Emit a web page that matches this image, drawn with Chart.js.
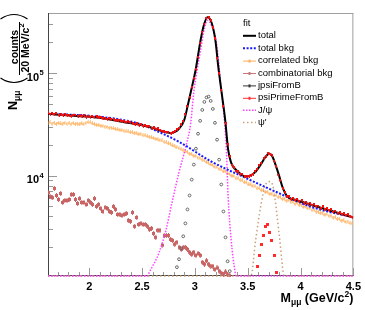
<!DOCTYPE html>
<html>
<head>
<meta charset="utf-8">
<script src="https://cdn.jsdelivr.net/npm/chart.js@4.4.1/dist/chart.umd.min.js"></script>
<style>
  html, body { margin: 0; padding: 0; background: #fff; }
  #wrap { position: relative; width: 365px; height: 310px; }
</style>
</head>
<body>
<div id="wrap"><canvas id="massChart"></canvas></div>
<script>
// 20 MeV bins, first bin centre 1.61 GeV
var binFirst = 1.61;
var binWidth = 0.02;
var xMin = 1.61, xMax = 4.5;
var yMin = 1050, yMax = 385000;
var xLabelTicks = [2, 2.5, 3, 3.5, 4, 4.5];
var yLabelDecades = [4, 5];

// data points (red), one per bin
var dataCounts = [
  40800, 39500, 40600, 39200, 40100, 38900, 39700, 38600, 39800, 38400, 38900, 37600, 38700, 38900, 37900, 38500, 37400, 38600, 37200, 37900,
  37100, 37800, 36700, 37300, 36500, 36900, 35700, 36400, 35300, 35900, 34900, 35200, 34600, 34100, 34700, 33600, 33900, 33100, 33400, 32600,
  32200, 31700, 31900, 31000, 31400, 30400, 30600, 29800, 29900, 29100, 29200, 28300, 28500, 27600, 27100, 26900, 26300, 26500, 26000, 26400,
  26800, 27900, 28900, 31200, 33800, 39500, 47000, 58000, 72000, 88000, 108000, 142000, 195000, 250000, 300000, 340000, 345000, 325000, 275000, 215000,
  140000, 98000, 68000, 47000, 32000, 20000, 15300, 12600, 11900, 11000, 10900, 10200, 10300, 9700, 9900, 9800, 10100, 10200, 11000, 11400,
  12500, 13100, 14700, 15300, 16500, 16100, 15800, 13800, 12200, 10100, 8900, 7500, 6900, 6200, 6200, 5800, 6000, 5700, 5850, 5550,
  5700, 5400, 5500, 5250, 5400, 5100, 5250, 4950, 5050, 4800, 4950, 4650, 4750, 4550, 4650, 4400, 4500, 4300, 4380, 4150,
  4250, 4050, 4150, 3950, 3900
];

// correlated bkg (orange), one per bin
var correlatedBkg = [
  32500, 33100, 32200, 32800, 31900, 32600, 32300, 31800, 32700, 32100, 32400, 31700, 32500, 31900, 32200, 31600, 32300, 31800, 32600, 33200,
  33000, 32300, 31900, 31400, 31100, 30800, 30500, 30000, 29800, 29300, 29400, 28800, 28600, 28200, 28000, 27700, 27500, 27000, 27000, 26400,
  26500, 25900, 25900, 25300, 25400, 24700, 24700, 24200, 23900, 23600, 23300, 22900, 22700, 22100, 22000, 21400, 21100, 20600, 20500, 19700,
  19500, 18800, 18500, 18100, 17700, 17200, 17100, 16400, 16300, 15700, 15500, 15000, 14800, 14300, 14100, 13600, 13400, 12900, 12700, 12200,
  12100, 11600, 11500, 11000, 11000, 10500, 10400, 10000, 9900, 9400, 9400, 9000, 9000, 8600, 8600, 8200, 8200, 7900, 7900, 7500,
  7500, 7200, 7200, 6900, 6950, 6650, 6650, 6400, 6400, 6150, 6200, 5900, 5950, 5700, 5750, 5500, 5550, 5300, 5400, 5150,
  5200, 4950, 5000, 4800, 4800, 4600, 4650, 4450, 4450, 4300, 4350, 4150, 4200, 4050, 4050, 3900, 3920, 3780, 3800, 3650,
  3680, 3540, 3560, 3440, 3420
];

// combinatorial bkg (brown-red), from the first bin on
var combinatorialBkg = [
  6840, 6250, 6100, 7500, 6400, 5850, 6700, 5470, 5720, 5720, 5850, 6540, 6540, 5850, 5350, 5980, 5470, 5470, 5230, 5720,
  5470, 5230, 5980, 5000, 5230, 4780, 4470, 4890, 4780, 4470, 4370, 5000, 4680, 4180, 4180, 4090, 4180, 4280, 3660, 3580,
  4370, 3200, 3910, 3340, 3420, 3340, 3340, 3200, 2990, 3060, 2730, 2500, 2930, 2930, 2100, 2610, 2610, 2610, 2390, 2330,
  2140, 2240, 2000, 1910, 2000, 2000, 1910, 1790, 1710, 1790, 1670, 1740, 1670, 1430, 1370, 1480, 1370, 1310, 1310, 1220,
  1260, 1170, 1120, 1090, 1150, 1080, 1060
];

// jpsiFromB (open circles), first bin 2.83
var jpsiFromBStart = 2.83;
var jpsiFromB = [
  1280, 1530, 1950, 2560, 3420, 4680, 6400, 9140, 12800, 18300, 25600, 34200, 43700, 52300, 57800, 58900, 53500, 44700, 32700, 22400,
  14300, 8190, 4470, 2500, 1460, 1170
];

// psiPrimeFromB (red), first bin 3.59
var psiPrimeFromBStart = 3.59;
var psiPrimeFromB = [1310, 1670, 2140, 2610, 3200, 3340, 2800, 2340, 1670, 1140];

// fit curves
var totalFitMass = [1.61, 1.85, 2.01, 2.17, 2.32, 2.48, 2.63, 2.71, 2.77, 2.85, 2.90, 2.94, 2.97, 3.007, 3.035, 3.054, 3.082, 3.119, 3.157, 3.194,
  3.222, 3.25, 3.287, 3.315, 3.343, 3.409, 3.483, 3.567, 3.623, 3.67, 3.707, 3.735, 3.763, 3.80, 3.828, 3.875, 3.94, 4.034, 4.183, 4.341, 4.5];
var totalFit = [40000, 38300, 37400, 35700, 33400, 31300, 28600, 26700, 26100, 28600, 35000, 52300, 71500, 107000, 160000, 209000, 286000, 350000, 313000, 209000,
  114000, 68400, 35000, 17900, 13400, 10900, 9780, 10700, 12800, 15300, 16400, 15300, 12800, 9780, 7810, 6250, 5850, 5470, 4890, 4370, 3910];

var totalBkgMass = [1.61, 2.009, 2.317, 2.476, 2.634, 2.849, 3.157, 3.474, 3.782, 4.09, 4.5];
var totalBkg = [40000, 38300, 34900, 32000, 27400, 21400, 13700, 9570, 6840, 5000, 3910];

var jpsiLineMass = [1.61, 2.55, 2.569, 2.662, 2.728, 2.784, 2.849, 2.914, 2.961, 2.989, 3.017, 3.054, 3.091, 3.119, 3.157, 3.203, 3.25, 3.297, 3.315, 3.343, 3.381, 3.39, 4.5];
var jpsiLine = [1050, 1050, 1143, 1787, 2990, 5470, 10700, 19100, 32700, 64000, 100000, 167000, 274000, 327000, 292000, 200000, 68400, 19100, 6250, 2390, 1143, 1050, 1050];

var psiPrimeLineMass = [1.61, 3.53, 3.576, 3.623, 3.67, 3.707, 3.735, 3.763, 3.80, 3.847, 4.5];
var psiPrimeLine = [1050, 1050, 2390, 5000, 8190, 8750, 8190, 5470, 2560, 1050, 1050];

var FONT = '"Liberation Sans", Arial, Helvetica, sans-serif';

function binPoints(start, values) {
  return values.map(function (v, i) {
    return { x: start + i * binWidth, y: v };
  });
}
function curvePoints(xs, ys) {
  return xs.map(function (x, i) { return { x: x, y: ys[i] }; });
}

// small marker with a vertical error bar
function makeMarker(color, w, h, dot) {
  var c = document.createElement('canvas');
  c.width = w; c.height = h;
  var g = c.getContext('2d');
  g.fillStyle = color;
  g.fillRect(Math.floor(w / 2), 0, 1, h);
  g.fillRect(Math.floor((w - dot) / 2), Math.floor((h - dot) / 2), dot, dot);
  return c;
}

var dataMarker = makeMarker('#f01010', 2, 3, 2);
var orangeMarker = makeMarker('rgba(255,175,90,0.7)', 3, 4, 2);
var combMarker = makeMarker('rgb(200,100,100)', 3, 5, 3);
var psiPMarker = makeMarker('#ff2a2a', 3, 3, 3);

var datasets = [
  { label: 'data', data: binPoints(binFirst, dataCounts), pointStyle: dataMarker, pointRadius: 2, order: 0 },
  { label: 'total', data: curvePoints(totalFitMass, totalFit), showLine: true, borderColor: '#000', borderWidth: 2,
    pointRadius: 0, cubicInterpolationMode: 'monotone', order: 1, legend: { row: 0, kind: 'line' } },
  { label: 'total bkg', data: curvePoints(totalBkgMass, totalBkg), showLine: true, borderColor: '#1a1aff', borderWidth: 2,
    borderDash: [2, 1.6], pointRadius: 0, cubicInterpolationMode: 'monotone', order: 2, legend: { row: 1, kind: 'line' } },
  { label: 'correlated bkg', data: binPoints(binFirst, correlatedBkg), pointStyle: orangeMarker, pointRadius: 2,
    borderColor: 'rgb(255,175,90)', order: 7, legend: { row: 2, kind: 'marker' } },
  { label: 'combinatorial bkg', data: binPoints(binFirst, combinatorialBkg), pointStyle: combMarker, pointRadius: 2,
    borderColor: 'rgb(200,120,120)', order: 7, legend: { row: 3, kind: 'marker' } },
  { label: 'jpsiFromB', data: binPoints(jpsiFromBStart, jpsiFromB), pointStyle: 'circle', pointRadius: 1.4,
    pointBorderWidth: 1, pointBorderColor: '#666', pointBackgroundColor: 'rgba(255,255,255,0)', borderColor: '#333',
    order: 3, legend: { row: 4, kind: 'marker' } },
  { label: 'psiPrimeFromB', data: binPoints(psiPrimeFromBStart, psiPrimeFromB), pointStyle: psiPMarker, pointRadius: 2,
    borderColor: '#ff3030', order: 3, legend: { row: 5, kind: 'marker' } },
  { label: 'J/ψ', data: curvePoints(jpsiLineMass, jpsiLine), showLine: true, borderColor: '#ff40ff', borderWidth: 1.5,
    borderDash: [1.5, 1.5], pointRadius: 0, cubicInterpolationMode: 'monotone', order: 4, legend: { row: 6, kind: 'line' } },
  { label: "ψ'", data: curvePoints(psiPrimeLineMass, psiPrimeLine), showLine: true, borderColor: '#c8a07a', borderWidth: 1.5,
    borderDash: [1.5, 2.5], pointRadius: 0, cubicInterpolationMode: 'monotone', order: 5, legend: { row: 7, kind: 'line' } }
];
datasets.forEach(function (d) { d.clip = { left: 0, top: 0, right: 0, bottom: 1 }; });

// frame and inward ticks (ROOT style)
var frameTicks = {
  id: 'frameTicks',
  beforeDatasetsDraw: function (chart) {
    var ctx = chart.ctx, a = chart.chartArea;
    var xs = chart.scales.x, ys = chart.scales.y;
    ctx.save();
    ctx.lineWidth = 1;
    ctx.strokeStyle = '#a0a0a0';
    ctx.beginPath();
    ctx.moveTo(a.left, a.top + 0.5); ctx.lineTo(a.right, a.top + 0.5);
    ctx.moveTo(a.right - 0.5, a.top); ctx.lineTo(a.right - 0.5, a.bottom);
    ctx.stroke();

    ctx.strokeStyle = '#999';
    ctx.beginPath();
    for (var t = 17; t <= 45; t++) {
      var px = Math.round(xs.getPixelForValue(t / 10)) + 0.5;
      var len = (t % 5 === 0) ? 8 : 4;
      ctx.moveTo(px, a.bottom); ctx.lineTo(px, a.bottom - len);
    }
    for (var e = 3; e <= 5; e++) {
      for (var m = 1; m <= 9; m++) {
        var v = m * Math.pow(10, e);
        if (v < yMin || v > yMax) continue;
        var py = Math.round(ys.getPixelForValue(v)) + 0.5;
        var l = (m === 1) ? 9 : 5;
        ctx.moveTo(a.left, py); ctx.lineTo(a.left + l, py);
      }
    }
    ctx.stroke();

    ctx.strokeStyle = '#444';
    ctx.beginPath();
    ctx.moveTo(a.left + 0.5, a.top); ctx.lineTo(a.left + 0.5, a.bottom);
    ctx.moveTo(a.left, a.bottom - 0.5); ctx.lineTo(a.right, a.bottom - 0.5);
    ctx.stroke();
    ctx.restore();
  }
};

// axis titles, y labels and legend
var textPlugin = {
  id: 'texts',
  afterDraw: function (chart) {
    var ctx = chart.ctx, a = chart.chartArea, ys = chart.scales.y;
    var bold = function (s) { return 'bold ' + s + 'px ' + FONT; };
    ctx.save();
    ctx.fillStyle = '#000';
    ctx.textBaseline = 'alphabetic';

    // y labels 10^n
    yLabelDecades.forEach(function (e) {
      var py = ys.getPixelForValue(Math.pow(10, e));
      ctx.textAlign = 'right';
      ctx.font = bold(11);
      ctx.fillText('10', 39, py + 7.5);
      ctx.textAlign = 'left';
      ctx.font = bold(7.5);
      ctx.fillText(String(e), 39.5, py + 2);
    });

    // x title
    var parts = [
      { t: 'M', f: bold(12.5), dy: 0 },
      { t: 'μμ', f: bold(8.5), dy: 3 },
      { t: ' (GeV/c', f: bold(12.5), dy: 0 },
      { t: '2', f: bold(8.5), dy: -5 },
      { t: ')', f: bold(12.5), dy: 0 }
    ];
    var w = 0;
    parts.forEach(function (p) { ctx.font = p.f; p.w = ctx.measureText(p.t).width; w += p.w; });
    var x = a.right - w;
    ctx.textAlign = 'left';
    parts.forEach(function (p) { ctx.font = p.f; ctx.fillText(p.t, x, 301.5 + p.dy); x += p.w; });

    // y title, rotated: tx = -pageY, ty = pageX
    ctx.save();
    ctx.rotate(-Math.PI / 2);
    ctx.font = bold(12.5);
    ctx.fillText('N', -110, 17);
    var nw = ctx.measureText('N').width;
    ctx.font = bold(8.5);
    ctx.fillText('μμ', -110 + nw, 20);
    ctx.textAlign = 'center';
    ctx.font = bold(10.5);
    ctx.fillText('counts', -47, 17.5);
    var den = '20 MeV/c';
    var dw = ctx.measureText(den).width;
    ctx.font = bold(7.5);
    var sw = ctx.measureText('2').width;
    ctx.textAlign = 'left';
    ctx.font = bold(10.5);
    ctx.fillText(den, -48 - (dw + sw) / 2, 28.5);
    ctx.font = bold(7.5);
    ctx.fillText('2', -48 - (dw + sw) / 2 + dw, 24);
    ctx.lineWidth = 1;
    ctx.strokeStyle = '#000';
    ctx.beginPath();
    ctx.moveTo(-75, 19.5); ctx.lineTo(-22, 19.5);
    ctx.stroke();
    ctx.lineWidth = 1.2;
    ctx.beginPath();
    ctx.moveTo(-78, 0.5); ctx.quadraticCurveTo(-87, 14, -78, 27.5);
    ctx.moveTo(-19, 0.5); ctx.quadraticCurveTo(-10, 14, -19, 27.5);
    ctx.stroke();
    ctx.restore();

    // legend
    var lx = 243, tx = 258, y0 = 35.8, dy = 12.4;
    ctx.font = '9.5px ' + FONT;
    ctx.textAlign = 'left';
    ctx.textBaseline = 'middle';
    ctx.fillText('fit', lx, 23.3);
    chart.data.datasets.forEach(function (d) {
      if (!d.legend) return;
      var y = y0 + d.legend.row * dy;
      ctx.save();
      ctx.strokeStyle = d.borderColor;
      if (d.legend.kind === 'line') {
        ctx.lineWidth = d.borderWidth;
        ctx.setLineDash(d.borderDash || []);
        ctx.beginPath(); ctx.moveTo(lx, y); ctx.lineTo(lx + 13, y); ctx.stroke();
      } else {
        ctx.lineWidth = 1;
        ctx.beginPath(); ctx.moveTo(lx, y + 0.5); ctx.lineTo(lx + 13, y + 0.5); ctx.stroke();
        ctx.fillStyle = d.borderColor;
        ctx.fillRect(lx + 5.5, y - 1, 2, 3);
      }
      ctx.restore();
      ctx.fillText(d.label, tx, y);
    });
    ctx.restore();
  }
};

var massChart = new Chart(document.getElementById('massChart'), {
  type: 'scatter',
  data: { datasets: datasets },
  options: {
    responsive: true,
    maintainAspectRatio: false,
    animation: false,
    events: [],
    layout: { padding: { top: 13, right: 8, left: 0, bottom: 0 } },
    plugins: { legend: { display: false }, tooltip: { enabled: false } },
    scales: {
      x: {
        type: 'linear', min: xMin, max: xMax,
        grid: { display: false, drawTicks: false },
        border: { display: false },
        afterBuildTicks: function (s) { s.ticks = xLabelTicks.map(function (v) { return { value: v }; }); },
        ticks: {
          color: '#000', padding: 4, maxRotation: 0, autoSkip: false,
          font: { family: FONT, size: 11, weight: 'bold' },
          callback: function (v) { return String(v); }
        },
        afterFit: function (s) { s.height = 34; }
      },
      y: {
        type: 'logarithmic', min: yMin, max: yMax,
        grid: { display: false, drawTicks: false },
        border: { display: false },
        ticks: { display: false },
        afterFit: function (s) { s.width = 48; }
      }
    }
  },
  plugins: [frameTicks, textPlugin]
});
</script>
</body>
</html>
